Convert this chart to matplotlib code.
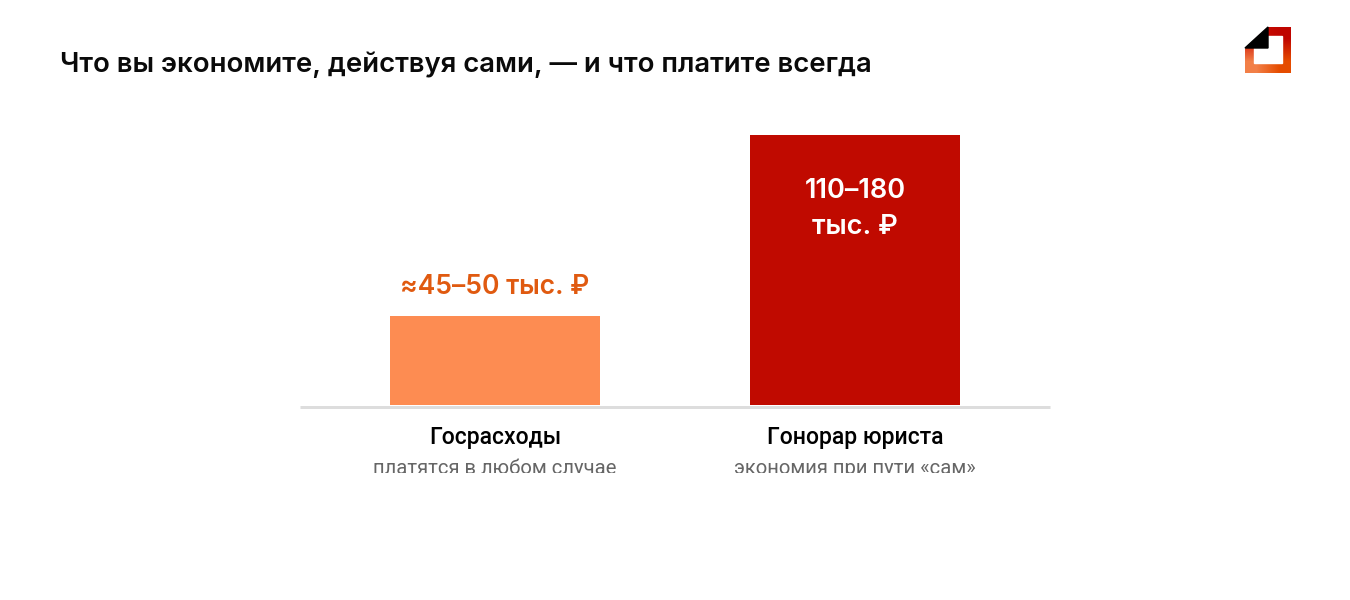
import numpy as np
import matplotlib
matplotlib.use("Agg")
import matplotlib.pyplot as plt
from matplotlib.patches import Polygon, Rectangle

categories = ["Госрасходы", "Гонорар юриста"]
subtitles = ["платятся в любом случае", "экономия при пути «сам»"]
values = [47.8, 145]
value_labels = ["≈45–50 тыс. ₽", "110–180\nтыс. ₽"]
colors = ["#FD8C52", "#C00A00"]
title = "Что вы экономите, действуя сами, — и что платите всегда"

W, H = 1350, 600
plt.rcParams["font.family"] = ["Inter", "Roboto", "DejaVu Sans"]

fig = plt.figure(figsize=(W / 100, H / 100), dpi=100, facecolor="white")

# overlay in pixel coords for text + logo
over = fig.add_axes([0, 0, 1, 1])
over.set_xlim(0, W)
over.set_ylim(H, 0)
over.axis("off")

# bars
ax = fig.add_axes([300 / W, 1 - 405 / H, 750 / W, 270 / H])
ax.patch.set_alpha(0)
x = np.arange(len(categories))
ax.bar(x, values, width=210 / 360, color=colors)
ax.set_xlim(-195 / 360, 1 + 195 / 360)
ax.set_ylim(0, 145)
ax.set_yticks([])
ax.set_xticks([])
for s in ["top", "left", "right"]:
    ax.spines[s].set_visible(False)
ax.spines["bottom"].set_color("#DDDDDD")
ax.spines["bottom"].set_linewidth(2.16)
ax.spines["bottom"].set_position(("outward", 1.08))
ax.spines["bottom"].set_capstyle("butt")

over.text(60, 65, title, fontsize=19.8, fontweight="semibold", color="#0A0A0A",
          ha="left", va="center")

ax.annotate(value_labels[0], (x[0], values[0]), xytext=(0, 21), textcoords="offset points",
            ha="center", va="center", fontsize=19, fontweight="semibold", color="#E05A10")
ax.annotate(value_labels[1], (x[1], values[1]), xytext=(0, -53.5), textcoords="offset points",
            ha="center", va="center", fontsize=19.5, fontweight="semibold", color="white",
            linespacing=1.5)

# second line of the captions is cut off in the original
clip = Rectangle((0, 0), W, 473, transform=over.transData)
for i, cx in enumerate([495, 855]):
    over.text(cx, 437.5, categories[i], fontsize=16.6, fontweight="medium", color="black",
              ha="center", va="center", family=["Roboto", "DejaVu Sans"])
    t = over.text(cx, 468, subtitles[i], fontsize=14.6, color="#666666",
                  ha="center", va="center", family=["Roboto", "DejaVu Sans"])
    t.set_clip_path(clip)
    t.set_clip_on(True)

# logo
grad = np.array([[[0.80, 0.05, 0.0], [0.75, 0.02, 0.0]],
                 [[0.95, 0.50, 0.28], [0.90, 0.30, 0.0]]])
over.imshow(grad, extent=(1245, 1291, 73, 27), interpolation="bilinear", zorder=3, aspect="auto")
over.set_xlim(0, W)
over.set_ylim(H, 0)
over.add_patch(Rectangle((1254, 36), 28, 27, color="white", zorder=4))
over.add_patch(Polygon([(1245, 27), (1267, 27), (1245, 48)], color="white", zorder=4))
over.add_patch(Polygon([(1245, 48), (1268, 27), (1268, 48)], color="black", zorder=5))

fig.savefig("out.png", dpi=100, facecolor="white")
